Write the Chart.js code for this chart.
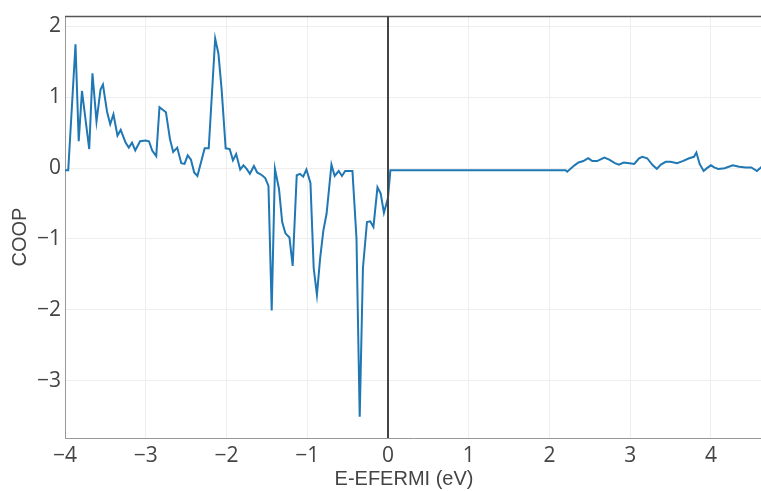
<!DOCTYPE html>
<html>
<head>
<meta charset="utf-8">
<script src="https://cdn.jsdelivr.net/npm/chart.js@4/dist/chart.umd.min.js"></script>
<style>
  html, body { margin: 0; padding: 0; background: #fff; }
  #wrap { width: 761px; height: 491px; }
</style>
</head>
<body>
<div id="wrap"><canvas id="coopChart" width="761" height="491"></canvas></div>
<script>
// E - E_fermi (eV)
const energies = [
  -4.00, -3.96, -3.87, -3.83, -3.79, -3.70, -3.66, -3.61, -3.56, -3.53,
  -3.48, -3.44, -3.40, -3.35, -3.31, -3.25, -3.21, -3.17, -3.13, -3.07,
  -3.00, -2.96, -2.92, -2.87, -2.83, -2.75, -2.70, -2.66, -2.61, -2.56,
  -2.52, -2.48, -2.44, -2.40, -2.36, -2.27, -2.22, -2.14, -2.10, -2.06,
  -2.01, -1.96, -1.92, -1.88, -1.83, -1.79, -1.75, -1.71, -1.66, -1.62,
  -1.56, -1.52, -1.48, -1.44, -1.40, -1.35, -1.31, -1.27, -1.22, -1.18,
  -1.13, -1.09, -1.05, -1.01, -0.96, -0.92, -0.88, -0.84, -0.80, -0.76,
  -0.70, -0.66, -0.61, -0.57, -0.53, -0.44, -0.39, -0.35, -0.31, -0.26,
  -0.22, -0.18, -0.13, -0.09, -0.05, 0.00, 0.03, 2.20, 2.22, 2.31,
  2.36, 2.42, 2.48, 2.53, 2.59, 2.68, 2.74, 2.81, 2.86, 2.92,
  2.99, 3.05, 3.11, 3.15, 3.21, 3.28, 3.33, 3.38, 3.44, 3.50,
  3.58, 3.65, 3.73, 3.79, 3.82, 3.86, 3.91, 3.95, 4.00, 4.04,
  4.09, 4.17, 4.27, 4.35, 4.43, 4.50, 4.57, 4.63
];

const coop = [
  -0.03, -0.03, 1.75, 0.38, 1.09, 0.27, 1.34, 0.66, 1.11, 1.18,
  0.80, 0.62, 0.76, 0.46, 0.54, 0.36, 0.29, 0.36, 0.25, 0.38,
  0.39, 0.38, 0.25, 0.17, 0.86, 0.79, 0.41, 0.23, 0.29, 0.07,
  0.06, 0.18, 0.12, -0.06, -0.11, 0.28, 0.28, 1.83, 1.62, 1.11,
  0.28, 0.27, 0.11, 0.20, -0.02, 0.04, -0.01, -0.08, 0.03, -0.06,
  -0.10, -0.14, -0.25, -2.01, -0.01, -0.29, -0.76, -0.92, -0.98, -1.38,
  -0.10, -0.08, -0.12, -0.02, -0.21, -1.41, -1.79, -1.27, -0.88, -0.64,
  0.05, -0.11, -0.04, -0.11, -0.04, -0.04, -0.99, -3.51, -1.41, -0.76,
  -0.75, -0.83, -0.27, -0.36, -0.63, -0.42, -0.03, -0.03, -0.05, 0.04,
  0.08, 0.10, 0.14, 0.10, 0.10, 0.15, 0.12, 0.07, 0.05, 0.08,
  0.07, 0.06, 0.14, 0.16, 0.14, 0.04, -0.01, 0.05, 0.09, 0.09,
  0.07, 0.10, 0.14, 0.16, 0.22, 0.06, -0.04, 0.00, 0.04, 0.01,
  -0.01, 0.00, 0.04, 0.02, 0.01, 0.01, -0.04, 0.02
];

const xTicks = [-4, -3, -2, -1, 0, 1, 2, 3, 4];
const yTicks = [-3, -2, -1, 0, 1, 2];
const xTitle = 'E-EFERMI (eV)';
const yTitle = 'COOP';

const minus = v => String(v).replace('-', '\u2212');

// top frame line, fermi level line and axis titles (plotly-style placement)
const framePlugin = {
    id: 'frame',
    afterDatasetsDraw(chart) {
        const { ctx, chartArea: a, scales: { x } } = chart;
        ctx.save();
        ctx.strokeStyle = '#555';
        ctx.lineWidth = 1.5;
        ctx.beginPath();
        ctx.moveTo(a.left, a.top);
        ctx.lineTo(a.right, a.top);
        ctx.stroke();

        const x0 = Math.round(x.getPixelForValue(0));
        ctx.strokeStyle = '#444';
        ctx.lineWidth = 2;
        ctx.beginPath();
        ctx.moveTo(x0, a.top);
        ctx.lineTo(x0, a.bottom);
        ctx.stroke();
        ctx.restore();
    },
    afterDraw(chart) {
        const { ctx } = chart;
        ctx.save();
        ctx.fillStyle = '#444';
        ctx.font = '20px "Liberation Sans", Arial, sans-serif';
        ctx.textAlign = 'center';
        ctx.textBaseline = 'middle';
        ctx.fillText(xTitle, 404, 479);
        ctx.translate(20, 237);
        ctx.rotate(-Math.PI / 2);
        ctx.fillText(yTitle, 0, 0);
        ctx.restore();
    }
};

new Chart(document.getElementById('coopChart'), {
    type: 'line',
    data: {
        datasets: [{
            label: 'COOP',
            data: energies.map((e, i) => ({ x: e, y: coop[i] })),
            borderColor: '#1f77b4',
            borderWidth: 2,
            pointRadius: 0,
            tension: 0,
            fill: false
        }]
    },
    options: {
        responsive: false,
        animation: false,
        layout: { padding: { top: 13, right: 0, left: 0, bottom: 0 } },
        plugins: { legend: { display: false }, tooltip: { enabled: false } },
        scales: {
            x: {
                type: 'linear',
                min: -4,
                max: 4.62,
                afterBuildTicks: s => { s.ticks = xTicks.map(v => ({ value: v })); },
                afterFit: s => { s.height = 53; },
                grid: { color: '#eee', drawTicks: false },
                border: { color: '#999', width: 1 },
                ticks: {
                    color: '#444',
                    padding: 5,
                    maxRotation: 0,
                    font: { family: 'Open Sans', size: 21 },
                    callback: v => minus(v)
                }
            },
            y: {
                min: -3.81,
                max: 2.14,
                afterBuildTicks: s => { s.ticks = yTicks.map(v => ({ value: v })); },
                afterFit: s => { s.width = 65; },
                grid: { color: '#eee', drawTicks: false },
                border: { color: '#999', width: 1 },
                ticks: {
                    color: '#444',
                    padding: 4,
                    font: { family: 'Open Sans', size: 21 },
                    callback: v => minus(v)
                }
            }
        }
    },
    plugins: [framePlugin]
});
</script>
</body>
</html>
